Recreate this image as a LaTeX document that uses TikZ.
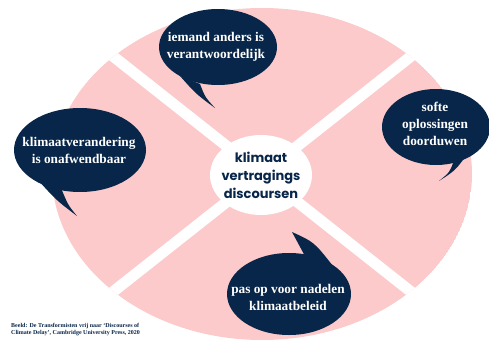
\documentclass[tikz,border=0pt]{standalone}
\usepackage{fontspec}
\setmainfont{Liberation Serif}
\newfontfamily\discfont{Poppins}
\definecolor{navy}{RGB}{8,38,73}
\definecolor{roze}{RGB}{252,202,202}
\begin{document}
\begin{tikzpicture}[x=1pt, y=-1pt, line join=round, line cap=round,
	bubble/.style={fill=navy},
	bubbletext/.style={text=white, align=center, inner sep=0pt, font=\fontsize{13.3}{17}\selectfont\bfseries}]
				\useasboundingbox (0,0) rectangle (489,342);
				\begin{scope}
					\clip (262,174) ellipse [x radius=210, y radius=166];
					\fill[roze] (262,174) ellipse [x radius=210, y radius=166];
					\draw[white, line width=11pt] (52,8)--(472,340) (472,8)--(52,340);
				\end{scope}
				\fill[white] (261,175) ellipse [x radius=51, y radius=40];
				\node[text=navy, align=center, inner sep=0pt, font=\discfont\fontsize{13}{18}\selectfont\bfseries] (kern) at (261,175) {klimaat\\vertragings\\discoursen};
				\coordinate (boven) at (218,47);
				\coordinate (links) at (80,150);
				\coordinate (rechts) at (436,127);
				\coordinate (onder) at (289,294);
				\fill[bubble] (boven) ellipse [x radius=59, y radius=38];
				\fill[bubble] (180,76) .. controls (196,94) .. (215,108) .. controls (205,97) .. (200,84) -- cycle;
				\fill[bubble] (links) ellipse [x radius=66, y radius=42];
				\fill[bubble] (38,180) .. controls (56,200) .. (77,216) .. controls (68,205) .. (61,188) -- cycle;
				\fill[bubble] (rechts) ellipse [x radius=54, y radius=38];
				\fill[bubble] (470,150) .. controls (456,170) .. (439,181) .. controls (450,172) .. (454,160) -- cycle;
				\fill[bubble] (onder) ellipse [x radius=62, y radius=41];
				\fill[bubble] (306,258) -- (292,232) .. controls (314,242) .. (333,266) -- cycle;
				\node[bubbletext] (iemand) at (216,47) {iemand anders is\\verantwoordelijk};
				\node[bubbletext] (onafwendbaar) at (79,150) {klimaatverandering\\is onafwendbaar};
				\node[bubbletext] (softe) at (435,124) {softe\\oplossingen\\doorduwen};
				\node[bubbletext] (nadelen) at (288,297) {pas op voor nadelen\\klimaatbeleid};
				\node[text=navy, align=left, anchor=west, inner sep=0pt, font=\fontsize{6}{7}\selectfont\bfseries] (bron) at (11,330) {Beeld: De Transformisten vrij naar `Discourses of\\Climate Delay', Cambridge University Press, 2020};
			\end{tikzpicture}
\end{document}
